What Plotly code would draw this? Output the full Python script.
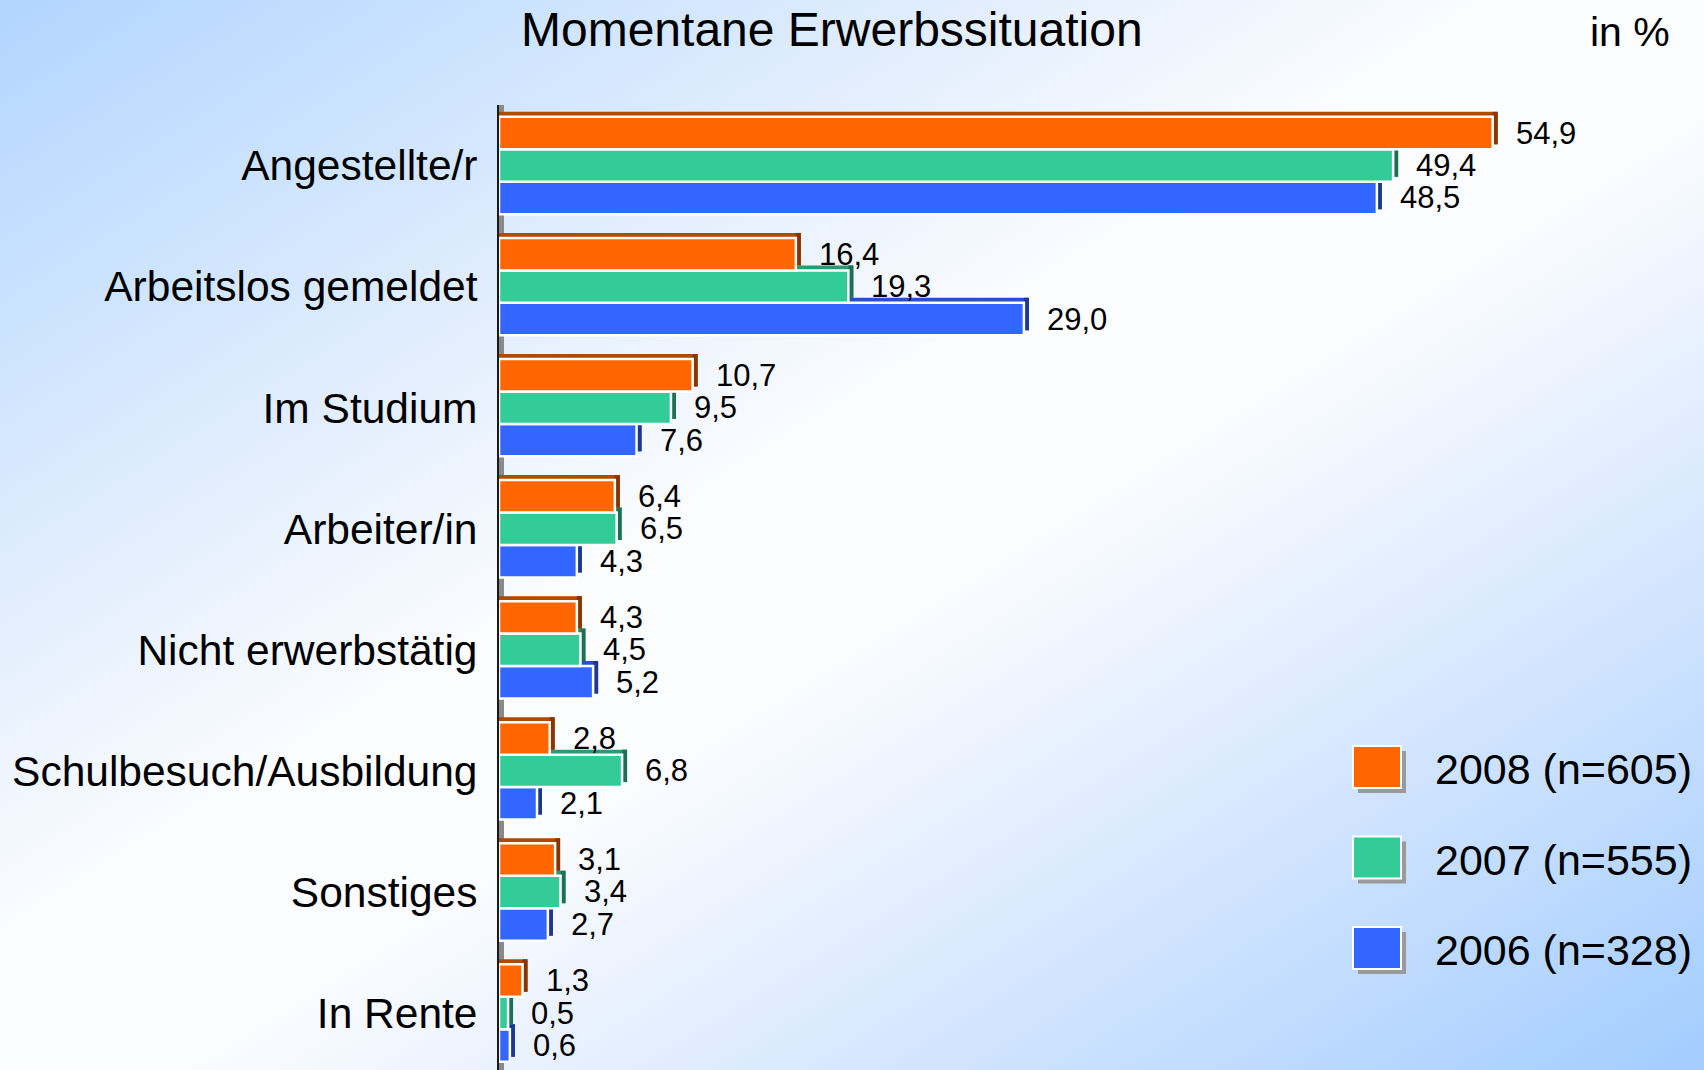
import base64
import plotly.graph_objects as go

# ---------------- data ----------------
categories = ["Angestellte/r", "Arbeitslos gemeldet", "Im Studium", "Arbeiter/in",
              "Nicht erwerbstätig", "Schulbesuch/Ausbildung", "Sonstiges", "In Rente"]
series_names = ["2008 (n=605)", "2007 (n=555)", "2006 (n=328)"]
values_2008 = [54.9, 16.4, 10.7, 6.4, 4.3, 2.8, 3.1, 1.3]
values_2007 = [49.4, 19.3, 9.5, 6.5, 4.5, 6.8, 3.4, 0.5]
values_2006 = [48.5, 29.0, 7.6, 4.3, 5.2, 2.1, 2.7, 0.6]
title_text = "Momentane Erwerbssituation"
unit_text = "in %"

# ---------------- styling ----------------
W, H = 1704, 1070
ML, MT = 499, 105
PW, PH = W - ML, H - MT
PX_PER_UNIT_X = 18.1
PX_PER_CAT = 121.07
XMAX = PW / PX_PER_UNIT_X
YBOT = -0.5 + PH / PX_PER_CAT

FONT = "Liberation Sans, Arial, sans-serif"
face_colors = ["#FF6600", "#33CC99", "#3366FF"]
top_colors = ["#B04A00", "#2A9A72", "#2A4FC8"]
side_colors = ["#8A3500", "#1E7052", "#1D3691"]

pitch = 0.268
offsets = [-1.5 * pitch, -0.5 * pitch, 0.5 * pitch]
label_yshift = [pitch * PX_PER_CAT, 0, -pitch * PX_PER_CAT]
dy = 5 / PX_PER_CAT
dx = 5 / PX_PER_UNIT_X

all_values = [values_2008, values_2007, values_2006]

fig = go.Figure()

# draw bottom series first so upper bars cover lower depth strips
for s in [2, 1, 0]:
    vals = all_values[s]
    # top depth
    fig.add_trace(go.Bar(
        y=categories, x=[v + dx for v in vals], orientation="h",
        offset=offsets[s] - dy, width=pitch,
        marker=dict(color=top_colors[s], line=dict(width=0)),
        hoverinfo="skip", showlegend=False))
    # side depth
    fig.add_trace(go.Bar(
        y=categories, x=[dx] * len(vals), base=vals, orientation="h",
        offset=offsets[s] - dy, width=pitch,
        marker=dict(color=side_colors[s], line=dict(width=0)),
        hoverinfo="skip", showlegend=False))
    # face
    fig.add_trace(go.Bar(
        y=categories, x=vals, orientation="h", name=series_names[s],
        offset=offsets[s], width=pitch,
        marker=dict(color=face_colors[s], line=dict(color="white", width=2.5)),
        showlegend=False))

annotations = []
for s in range(3):
    for c, v in zip(categories, all_values[s]):
        annotations.append(dict(
            x=v, y=c, xref="x", yref="y", xanchor="left", yanchor="middle",
            xshift=21, yshift=label_yshift[s], showarrow=False,
            text=f"{v:.1f}".replace(".", ","),
            font=dict(family=FONT, size=31, color="black")))


def px(xp):
    return (xp - ML) / PW


def py(yp):
    return 1 - (yp - MT) / PH


annotations.append(dict(x=px(832), y=py(30), xref="paper", yref="paper",
                        xanchor="center", yanchor="middle", showarrow=False,
                        text=title_text, font=dict(family=FONT, size=48, color="black")))
annotations.append(dict(x=px(1672), y=py(32), xref="paper", yref="paper",
                        xanchor="right", yanchor="middle", showarrow=False,
                        text=unit_text, font=dict(family=FONT, size=41, color="black")))

shapes = []
# axis wall
shapes.append(dict(type="rect", xref="x", yref="paper", x0=0, x1=dx, y0=0, y1=1,
                   fillcolor="#8a8a8a", line=dict(width=0), layer="below"))

# legend
leg_x0, leg_w, leg_h = 1353, 48, 42
leg_y0 = [746, 836.5, 927]
for s in range(3):
    y0 = leg_y0[s]
    shapes.append(dict(type="rect", xref="paper", yref="paper",
                       x0=px(leg_x0 + 5), x1=px(leg_x0 + leg_w + 5),
                       y0=py(y0 + 5), y1=py(y0 + leg_h + 5),
                       fillcolor="#9a9a9a", line=dict(width=0)))
    shapes.append(dict(type="rect", xref="paper", yref="paper",
                       x0=px(leg_x0), x1=px(leg_x0 + leg_w),
                       y0=py(y0), y1=py(y0 + leg_h),
                       fillcolor=face_colors[s], line=dict(color="white", width=2)))
    annotations.append(dict(x=px(1433), y=py(y0 + leg_h / 2 + 2), xref="paper", yref="paper",
                            xanchor="left", yanchor="middle", showarrow=False,
                            text=series_names[s],
                            font=dict(family=FONT, size=43, color="black")))

# gradient background as inline SVG
svg = f'''<svg xmlns="http://www.w3.org/2000/svg" width="{W}" height="{H}" viewBox="0 0 {W} {H}" preserveAspectRatio="none">
<defs><linearGradient id="g" x1="0" y1="0" x2="1" y2="1">
<stop offset="0" stop-color="#B1D5FF"/>
<stop offset="0.3" stop-color="#E4EFFD"/>
<stop offset="0.45" stop-color="#FCFDFF"/>
<stop offset="0.55" stop-color="#FBFCFF"/>
<stop offset="0.72" stop-color="#DCEAFE"/>
<stop offset="1" stop-color="#A2CCFF"/>
</linearGradient></defs>
<rect width="{W}" height="{H}" fill="url(#g)"/></svg>'''
svg_uri = "data:image/svg+xml;base64," + base64.b64encode(svg.encode()).decode()

fig.update_layout(
    width=W, height=H, autosize=False,
    margin=dict(l=ML, r=0, t=MT, b=0, pad=0),
    barmode="overlay",
    paper_bgcolor="white", plot_bgcolor="rgba(0,0,0,0)",
    showlegend=False,
    font=dict(family=FONT, color="black"),
    xaxis=dict(range=[0, XMAX], visible=False, showgrid=False, zeroline=False, fixedrange=True),
    yaxis=dict(type="category", categoryorder="array", categoryarray=categories,
               range=[YBOT, -0.5], showgrid=False, zeroline=False,
               showline=True, linecolor="#1a1a1a", linewidth=2, ticks="",
               ticklabelstandoff=11, tickfont=dict(family=FONT, size=42.5, color="black"),
               fixedrange=True),
    annotations=annotations,
    shapes=shapes,
    images=[dict(source=svg_uri, xref="paper", yref="paper",
                 x=px(0), y=py(0), sizex=W / PW, sizey=H / PH,
                 xanchor="left", yanchor="top", sizing="stretch", layer="below")],
)

fig.write_html("out.html", config={"displayModeBar": False},
               post_script="document.body.style.margin='0px';document.body.style.overflow='hidden';")
